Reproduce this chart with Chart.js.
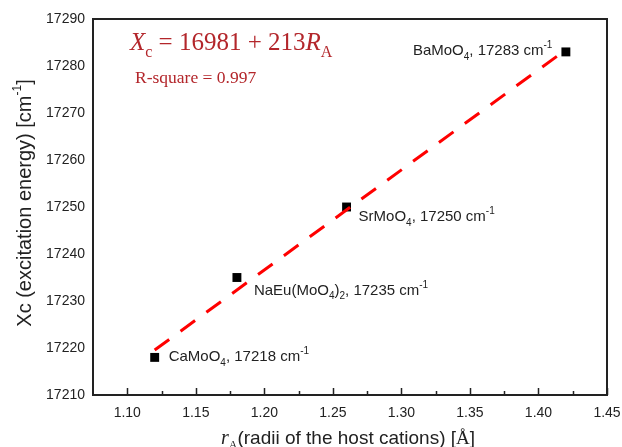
<!DOCTYPE html>
<html>
<head>
<meta charset="utf-8">
<script src="https://cdn.jsdelivr.net/npm/chart.js@4.4.1/dist/chart.umd.min.js"></script>
<style>
  html, body { margin: 0; background: #fff; }
  canvas { display: block; }
</style>
</head>
<body>
<canvas id="chart" width="622" height="447"></canvas>
<script>
// host cation radius (Å) vs. excitation energy (cm-1)
const compounds = ['CaMoO_4', 'NaEu(MoO_4)_2', 'SrMoO_4', 'BaMoO_4'];
const radii = [1.12, 1.18, 1.26, 1.42];
const energies = [17218, 17235, 17250, 17283];

// linear fit: Xc = intercept + slope * rA
const fitIntercept = 16981;
const fitSlope = 213;
const rSquare = 0.997;
const fitRange = [1.12, 1.42];

const xTicks = [1.10, 1.15, 1.20, 1.25, 1.30, 1.35, 1.40, 1.45];
const yTicks = [17210, 17220, 17230, 17240, 17250, 17260, 17270, 17280, 17290];

// label position relative to its point, px
const labelOffsets = [[14, 4], [17, 17], [12, 14], [-153, 3]];

const SANS = '"Liberation Sans", Arial, sans-serif';
const SERIF = '"Liberation Serif", "Times New Roman", serif';
const INK = '#222';
const EQ_RED = '#b3262b';

function runsWidth(ctx, runs) {
  let w = 0;
  runs.forEach(r => { ctx.font = r.font; w += ctx.measureText(r.t).width; });
  return w;
}
function drawRuns(ctx, x, y, runs) {
  runs.forEach(r => {
    ctx.font = r.font;
    ctx.fillText(r.t, x, y + (r.dy || 0));
    x += ctx.measureText(r.t).width;
  });
}
// "NaEu(MoO_4)_2" -> runs with subscripted digits
function formulaRuns(name, size) {
  const out = [];
  name.split(/_(\d)/).forEach((part, i) => {
    if (!part) return;
    if (i % 2) out.push({t: part, font: `${Math.round(size * 0.66)}px ${SANS}`, dy: size * 0.33});
    else out.push({t: part, font: `${size}px ${SANS}`});
  });
  return out;
}

const decorations = {
  id: 'decorations',
  afterDraw(chart) {
    const {ctx, chartArea: a, scales: {x, y}} = chart;
    ctx.save();

    // frame
    ctx.strokeStyle = INK;
    ctx.lineWidth = 2;
    ctx.strokeRect(a.left, a.top, a.right - a.left, a.bottom - a.top);

    // inward ticks on the bottom axis, minor ones halfway
    ctx.lineWidth = 1.5;
    ctx.beginPath();
    xTicks.forEach((v, i) => {
      const px = Math.round(x.getPixelForValue(v)) + 0.5;
      ctx.moveTo(px, a.bottom); ctx.lineTo(px, a.bottom - 7);
      if (i > 0) {
        const mx = Math.round(x.getPixelForValue((v + xTicks[i - 1]) / 2)) + 0.5;
        ctx.moveTo(mx, a.bottom); ctx.lineTo(mx, a.bottom - 4);
      }
    });
    ctx.stroke();

    // point labels
    ctx.fillStyle = INK;
    ctx.textBaseline = 'alphabetic';
    ctx.textAlign = 'left';
    compounds.forEach((name, i) => {
      const px = x.getPixelForValue(radii[i]) + labelOffsets[i][0];
      const py = y.getPixelForValue(energies[i]) + labelOffsets[i][1];
      const runs = formulaRuns(name, 15).concat([
        {t: `, ${energies[i]} cm`, font: `15px ${SANS}`},
        {t: '-1', font: `10px ${SANS}`, dy: -7}
      ]);
      drawRuns(ctx, px, py, runs);
    });

    // fit equation
    ctx.fillStyle = EQ_RED;
    drawRuns(ctx, a.left + 37, 50, [
      {t: 'X', font: `italic 25px ${SERIF}`},
      {t: 'c', font: `16px ${SERIF}`, dy: 7},
      {t: ` = ${fitIntercept} + ${fitSlope}`, font: `25px ${SERIF}`},
      {t: 'R', font: `italic 25px ${SERIF}`},
      {t: 'A', font: `16px ${SERIF}`, dy: 7}
    ]);
    drawRuns(ctx, a.left + 42, 83, [
      {t: `R-square = ${rSquare}`, font: `17.5px ${SERIF}`}
    ]);

    // axis titles
    ctx.fillStyle = INK;
    const xTitle = [
      {t: 'r', font: `italic 20px ${SERIF}`},
      {t: 'A', font: `12px ${SERIF}`, dy: 5},
      {t: '(radii of the host cations) [', font: `19px ${SANS}`},
      {t: 'Å', font: `19px ${SERIF}`},
      {t: ']', font: `19px ${SANS}`}
    ];
    drawRuns(ctx, 348 - runsWidth(ctx, xTitle) / 2, 444, xTitle);

    const yTitle = [
      {t: 'Xc (excitation energy) [cm', font: `20px ${SANS}`},
      {t: '-1', font: `12px ${SANS}`, dy: -10},
      {t: ']', font: `20px ${SANS}`}
    ];
    ctx.translate(31, 203);
    ctx.rotate(-Math.PI / 2);
    drawRuns(ctx, -runsWidth(ctx, yTitle) / 2, 0, yTitle);

    ctx.restore();
  }
};

new Chart(document.getElementById('chart'), {
  type: 'scatter',
  data: {
    datasets: [
      {
        label: 'fit',
        data: fitRange.map(r => ({x: r, y: fitIntercept + fitSlope * r})),
        showLine: true,
        borderColor: '#ff0000',
        borderWidth: 3,
        borderDash: [18, 14],
        pointRadius: 0,
        fill: false,
        order: 0
      },
      {
        label: 'Xc',
        data: radii.map((r, i) => ({x: r, y: energies[i]})),
        pointStyle: 'rect',
        pointRadius: 6.3,
        backgroundColor: '#000',
        borderColor: '#000',
        borderWidth: 0,
        order: 1
      }
    ]
  },
  options: {
    responsive: false,
    animation: false,
    layout: {padding: {top: 19, right: 15, left: 0, bottom: 0}},
    plugins: {legend: {display: false}, tooltip: {enabled: false}},
    scales: {
      x: {
        type: 'linear',
        min: 1.075,
        max: 1.45,
        afterBuildTicks: s => { s.ticks = xTicks.map(v => ({value: v})); },
        afterFit: s => { s.height = 52; s.paddingLeft = 0; s.paddingRight = 0; },
        grid: {display: false, drawTicks: false},
        border: {display: false},
        ticks: {
          font: {family: SANS, size: 14},
          color: INK,
          padding: 10,
          maxRotation: 0,
          autoSkip: false,
          callback: v => v.toFixed(2)
        }
      },
      y: {
        min: 17210,
        max: 17290,
        afterBuildTicks: s => { s.ticks = yTicks.map(v => ({value: v})); },
        afterFit: s => { s.width = 93; s.paddingTop = 0; s.paddingBottom = 0; },
        grid: {display: false, drawTicks: false},
        border: {display: false},
        ticks: {
          font: {family: SANS, size: 14},
          color: INK,
          padding: 8,
          autoSkip: false,
          callback: v => String(v)
        }
      }
    }
  },
  plugins: [decorations]
});
</script>
</body>
</html>
